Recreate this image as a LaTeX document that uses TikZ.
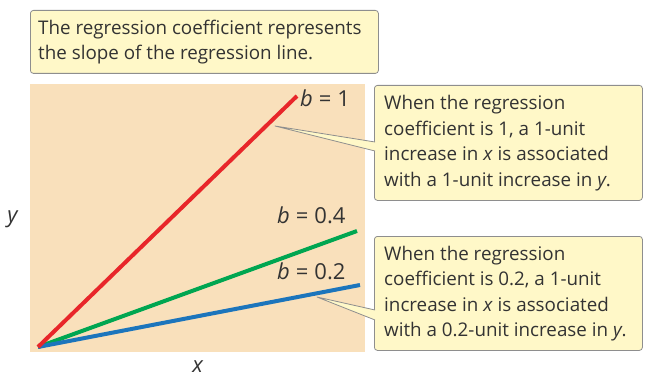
\documentclass[tikz,border=0pt]{standalone}
\usepackage{fontspec}
\setmainfont{Open Sans}
\usepackage{tikz}
\usetikzlibrary{calc}
\definecolor{NoteYellow}{HTML}{FFF8C8}
\definecolor{NoteGray}{HTML}{8E8E8E}
\definecolor{PlotPeach}{HTML}{F9E0BB}
\definecolor{TextGray}{HTML}{333333}
\definecolor{SlopeRed}{HTML}{E8262A}
\definecolor{SlopeGreen}{HTML}{00A651}
\definecolor{SlopeBlue}{HTML}{1C75BC}
\newcommand{\eqsp}{\hspace{6pt}=\hspace{6pt}}

\begin{document}
\begin{tikzpicture}[
  x=1pt, y=-1pt,
  notebox/.style={draw=NoteGray, fill=NoteYellow, rounded corners=3pt, line width=0.8pt, anchor=north west, inner sep=0pt},
  notetext/.style={align=left, anchor=west, inner sep=0pt, text=TextGray, font=\fontsize{18.8}{25.5}\selectfont},
  wedge/.style={draw=NoteGray, fill=NoteYellow, line width=0.8pt, line join=round},
  slope/.style={line width=4pt},
  lbl/.style={text=TextGray, font=\fontsize{22}{24}\selectfont, inner sep=0pt}
]
  \useasboundingbox (0,0) rectangle (645,377);
  % heading note
  \node[notebox, minimum width=348pt, minimum height=63pt] (head) at (30,10) {};
  \node[notetext] (headtext) at ($(head.west)+(8,0)$)
    {The regression coefficient represents\\the slope of the regression line.};
  % plot area
  \node[fill=PlotPeach, inner sep=0pt, minimum width=335pt, minimum height=268pt, anchor=north west] (plot) at (30,84) {};
  \coordinate (origin) at (38,347);
  \coordinate (endone) at (297,96);
  \coordinate (endfour) at (357,231);
  \coordinate (endtwo) at (360,285);
  \draw[slope, SlopeGreen] (origin) -- (endfour);
  \draw[slope, SlopeBlue] (origin) -- (endtwo);
  \draw[slope, SlopeRed] (origin) -- (endone);
  \node[lbl, anchor=base west] (bone) at (300,107) {\textit{b}\eqsp1};
  \node[lbl, anchor=base west] (bfour) at (277,223) {\textit{b}\eqsp0.4};
  \node[lbl, anchor=base west] (btwo) at (277,279) {\textit{b}\eqsp0.2};
  \node[lbl, anchor=base] (ylab) at (13,222) {\textit{y}};
  \node[lbl, anchor=base] (xlab) at (198,372) {\textit{x}};
  % callouts
  \node[notebox, minimum width=268pt, minimum height=115pt] (noteone) at (374,85) {};
  \node[notebox, minimum width=268pt, minimum height=114pt] (notetwo) at (374,236) {};
  \coordinate (tipone) at (275,126);
  \coordinate (tiptwo) at (317,297);
  \filldraw[wedge] ($(noteone.north west)+(1,57)$) -- (tipone) -- ($(noteone.north west)+(1,66)$);
  \filldraw[wedge] ($(notetwo.north west)+(1,74)$) -- (tiptwo) -- ($(notetwo.north west)+(1,84)$);
  \node[notetext] (textone) at ($(noteone.west)+(10,0)$)
    {When the regression\\coefficient is 1, a 1-unit\\increase in \textit{x} is associated\\with a 1-unit increase in \textit{y}.};
  \node[notetext] (texttwo) at ($(notetwo.west)+(10,0)$)
    {When the regression\\coefficient is 0.2, a 1-unit\\increase in \textit{x} is associated\\with a 0.2-unit increase in \textit{y}.};
\end{tikzpicture}
\end{document}
